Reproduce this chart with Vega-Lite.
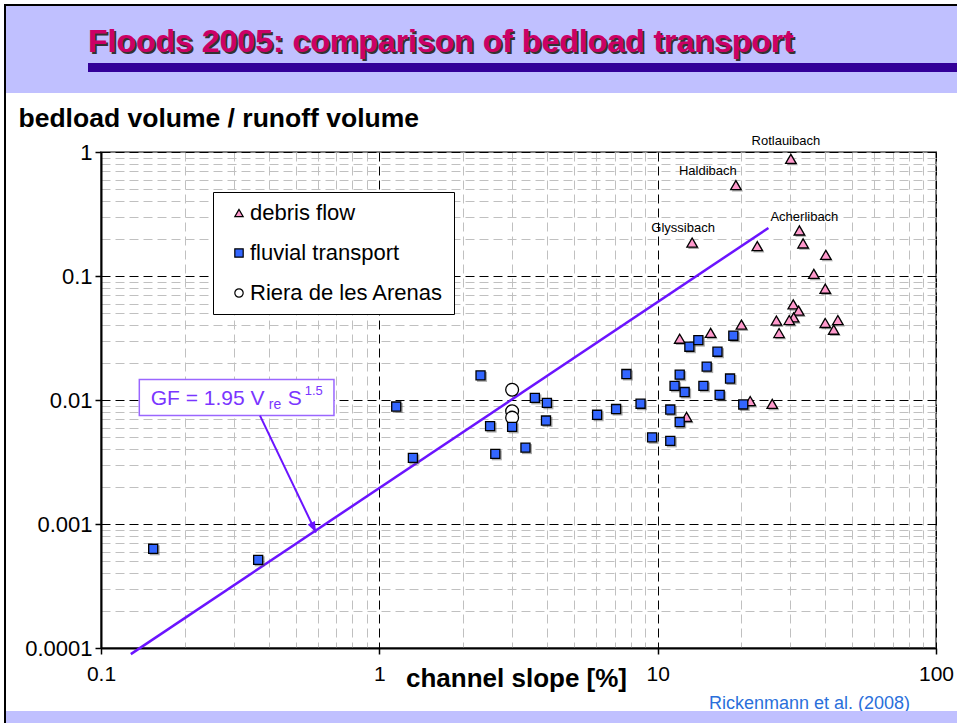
{
  "$schema": "https://vega.github.io/schema/vega-lite/v6.json",
  "background": "white",
  "padding": {"left": 4, "top": 4, "right": 0, "bottom": 0},
  "config": {"view": {"stroke": null}, "font": "Liberation Sans"},
  "columns": 5,
  "spacing": 0,
  "bounds": "flush",
  "align": "each",
  "concat": [
    {"width": 2, "height": 2, "data": {"values": []}, "mark": "point", "view": {"fill": "black", "stroke": null}},
    {"width": 82, "height": 2, "data": {"values": []}, "mark": "point", "view": {"fill": "black", "stroke": null}},
    {"width": 13, "height": 2, "data": {"values": []}, "mark": "point", "view": {"fill": "black", "stroke": null}},
    {"width": 835, "height": 2, "data": {"values": []}, "mark": "point", "view": {"fill": "black", "stroke": null}},
    {"width": 21, "height": 2, "data": {"values": []}, "mark": "point", "view": {"fill": "black", "stroke": null}},

    {"width": 2, "height": 57, "data": {"values": []}, "mark": "point", "view": {"fill": "black", "stroke": null}},
    {"width": 82, "height": 57, "data": {"values": []}, "mark": "point", "view": {"fill": "#c0c0ff", "stroke": null}},
    {"width": 13, "height": 57, "data": {"values": []}, "mark": "point", "view": {"fill": "#c0c0ff", "stroke": null}},
    {"width": 835, "height": 57, "data": {"values": []}, "mark": "point", "view": {"fill": "#c0c0ff", "stroke": null},
     "title": {"text": "Floods 2005: comparison of bedload transport", "anchor": "start", "frame": "group", "orient": "top", "offset": 0, "dx": -11, "dy": 80, "baseline": "alphabetic", "font": "Liberation Sans", "fontSize": 32, "fontWeight": "bold", "color": "#333333"}},
    {"width": 21, "height": 57, "data": {"values": []}, "mark": "point", "view": {"fill": "#c0c0ff", "stroke": null},
     "title": {"text": "Floods 2005: comparison of bedload transport", "anchor": "start", "frame": "group", "orient": "top", "offset": 0, "dx": -848, "dy": 78, "baseline": "alphabetic", "font": "Liberation Sans", "fontSize": 32, "fontWeight": "bold", "color": "#cc0066"}},

    {"width": 2, "height": 9, "data": {"values": []}, "mark": "point", "view": {"fill": "black", "stroke": null}},
    {"width": 82, "height": 9, "data": {"values": []}, "mark": "point", "view": {"fill": "#c0c0ff", "stroke": null}},
    {"width": 13, "height": 9, "data": {"values": []}, "mark": "point", "view": {"fill": "#330099", "stroke": null}},
    {"width": 835, "height": 9, "data": {"values": []}, "mark": "point", "view": {"fill": "#330099", "stroke": null}},
    {"width": 21, "height": 9, "data": {"values": []}, "mark": "point", "view": {"fill": "#330099", "stroke": null}},

    {"width": 2, "height": 21, "data": {"values": []}, "mark": "point", "view": {"fill": "black", "stroke": null}},
    {"width": 82, "height": 21, "data": {"values": []}, "mark": "point", "view": {"fill": "#c0c0ff", "stroke": null}},
    {"width": 13, "height": 21, "data": {"values": []}, "mark": "point", "view": {"fill": "#c0c0ff", "stroke": null}},
    {"width": 835, "height": 21, "data": {"values": []}, "mark": "point", "view": {"fill": "#c0c0ff", "stroke": null}},
    {"width": 21, "height": 21, "data": {"values": []}, "mark": "point", "view": {"fill": "#c0c0ff", "stroke": null}},

    {"width": 2, "height": 59, "data": {"values": []}, "mark": "point", "view": {"fill": "black", "stroke": null}},
    {"width": 82, "height": 59, "data": {"values": []}, "mark": "point", "view": {"fill": null, "stroke": null}},
    {"width": 13, "height": 59, "data": {"values": []}, "mark": "point", "view": {"fill": null, "stroke": null}},
    {"width": 835, "height": 59, "data": {"values": []}, "mark": "point", "view": {"fill": null, "stroke": null}},
    {"width": 21, "height": 59, "data": {"values": []}, "mark": "point", "view": {"fill": null, "stroke": null}},

    {"width": 2, "height": 496, "data": {"values": []}, "mark": "point", "view": {"fill": "black", "stroke": null}},
    {"width": 82, "height": 496, "data": {"values": []}, "mark": "point", "view": {"fill": null, "stroke": null}},
    {"width": 13, "height": 496, "data": {"values": []}, "mark": "point", "view": {"fill": null, "stroke": null}},
    {
      "width": 835,
      "height": 496,
      "view": {"fill": null, "stroke": "#808080", "strokeWidth": 2},
      "data": {"values": [
        {"type": "Riera de les Arenas", "slope": 3.0, "gf": 0.0121},
        {"type": "Riera de les Arenas", "slope": 3.0, "gf": 0.0081},
        {"type": "Riera de les Arenas", "slope": 3.0, "gf": 0.0072},
        {"type": "debris flow", "slope": 30.1, "gf": 0.88, "name": "Rotlauibach"},
        {"type": "debris flow", "slope": 19.1, "gf": 0.54, "name": "Haldibach"},
        {"type": "debris flow", "slope": 13.3, "gf": 0.186, "name": "Glyssibach"},
        {"type": "debris flow", "slope": 22.8, "gf": 0.174},
        {"type": "debris flow", "slope": 32.3, "gf": 0.233, "name": "Acherlibach"},
        {"type": "debris flow", "slope": 33.3, "gf": 0.183},
        {"type": "debris flow", "slope": 40.2, "gf": 0.148},
        {"type": "debris flow", "slope": 36.4, "gf": 0.104},
        {"type": "debris flow", "slope": 40.0, "gf": 0.079},
        {"type": "debris flow", "slope": 30.7, "gf": 0.059},
        {"type": "debris flow", "slope": 32.1, "gf": 0.0526},
        {"type": "debris flow", "slope": 30.8, "gf": 0.0464},
        {"type": "debris flow", "slope": 29.7, "gf": 0.0441},
        {"type": "debris flow", "slope": 26.7, "gf": 0.0437},
        {"type": "debris flow", "slope": 27.3, "gf": 0.0347},
        {"type": "debris flow", "slope": 40.0, "gf": 0.0418},
        {"type": "debris flow", "slope": 44.4, "gf": 0.0441},
        {"type": "debris flow", "slope": 42.9, "gf": 0.0369},
        {"type": "debris flow", "slope": 20.0, "gf": 0.0405},
        {"type": "debris flow", "slope": 15.5, "gf": 0.0348},
        {"type": "debris flow", "slope": 12.0, "gf": 0.0312},
        {"type": "debris flow", "slope": 21.5, "gf": 0.0098},
        {"type": "debris flow", "slope": 25.8, "gf": 0.0093},
        {"type": "debris flow", "slope": 12.7, "gf": 0.0073},
        {"type": "fluvial transport", "slope": 0.154, "gf": 0.000631},
        {"type": "fluvial transport", "slope": 0.367, "gf": 0.000514},
        {"type": "fluvial transport", "slope": 1.15, "gf": 0.00886},
        {"type": "fluvial transport", "slope": 1.32, "gf": 0.00341},
        {"type": "fluvial transport", "slope": 2.31, "gf": 0.0158},
        {"type": "fluvial transport", "slope": 2.5, "gf": 0.00616},
        {"type": "fluvial transport", "slope": 2.61, "gf": 0.00368},
        {"type": "fluvial transport", "slope": 3.0, "gf": 0.00607},
        {"type": "fluvial transport", "slope": 3.35, "gf": 0.00413},
        {"type": "fluvial transport", "slope": 3.62, "gf": 0.0104},
        {"type": "fluvial transport", "slope": 4.0, "gf": 0.00949},
        {"type": "fluvial transport", "slope": 3.97, "gf": 0.00683},
        {"type": "fluvial transport", "slope": 6.06, "gf": 0.0076},
        {"type": "fluvial transport", "slope": 7.09, "gf": 0.00846},
        {"type": "fluvial transport", "slope": 7.72, "gf": 0.0162},
        {"type": "fluvial transport", "slope": 8.68, "gf": 0.00933},
        {"type": "fluvial transport", "slope": 9.55, "gf": 0.005},
        {"type": "fluvial transport", "slope": 11.1, "gf": 0.00838},
        {"type": "fluvial transport", "slope": 11.1, "gf": 0.00468},
        {"type": "fluvial transport", "slope": 11.5, "gf": 0.013},
        {"type": "fluvial transport", "slope": 12.0, "gf": 0.016},
        {"type": "fluvial transport", "slope": 12.0, "gf": 0.00664},
        {"type": "fluvial transport", "slope": 12.5, "gf": 0.0116},
        {"type": "fluvial transport", "slope": 13.0, "gf": 0.0269},
        {"type": "fluvial transport", "slope": 14.0, "gf": 0.0304},
        {"type": "fluvial transport", "slope": 14.6, "gf": 0.013},
        {"type": "fluvial transport", "slope": 15.0, "gf": 0.0186},
        {"type": "fluvial transport", "slope": 16.4, "gf": 0.0245},
        {"type": "fluvial transport", "slope": 16.7, "gf": 0.011},
        {"type": "fluvial transport", "slope": 18.2, "gf": 0.0149},
        {"type": "fluvial transport", "slope": 18.7, "gf": 0.033},
        {"type": "fluvial transport", "slope": 20.3, "gf": 0.0092}
      ]},
      "layer": [
        {
          "data": {"values": [{"slope": 0.128, "gf": 0.0000893}, {"slope": 25, "gf": 0.244}]},
          "mark": {"type": "line", "color": "#6b14ff", "strokeWidth": 2.5, "clip": false},
          "encoding": {
            "x": {
              "field": "slope", "type": "quantitative",
              "scale": {"type": "log", "domain": [0.1, 100], "nice": false},
              "axis": {
                "values": [0.1, 0.2, 0.3, 0.4, 0.5, 0.6, 0.7, 0.8, 0.9, 1, 2, 3, 4, 5, 6, 7, 8, 9, 10, 20, 30, 40, 50, 60, 70, 80, 90, 100],
                "format": "~g",
                "labelExpr": "abs(log(datum.value)/LN10 - round(log(datum.value)/LN10)) < 0.000001 ? datum.label : ''",
                "grid": true,
                "gridColor": {"condition": {"test": "abs(log(datum.value)/LN10 - round(log(datum.value)/LN10)) < 0.000001", "value": "#000000"}, "value": "#c0c0c0"},
                "gridDash": [9, 5],
                "gridWidth": 1,
                "tickSize": 6,
                "tickColor": "black",
                "tickWidth": 1.5,
                "tickOpacity": {"condition": {"test": "abs(log(datum.value)/LN10 - round(log(datum.value)/LN10)) < 0.000001", "value": 1}, "value": 0},
                "domainColor": "black",
                "domainWidth": 2,
                "labelFont": "Liberation Sans",
                "labelFontSize": 21,
                "labelColor": "black",
                "labelPadding": 9,
                "labelFlush": false,
                "labelOverlap": false,
                "labelBaseline": "top",
                "title": "channel slope [%]",
                "titleFont": "Liberation Sans",
                "titleFontWeight": "bold",
                "titleFontSize": 26,
                "titleColor": "black",
                "titleX": 415,
                "titleY": 38,
                "titleAlign": "center",
                "titleBaseline": "alphabetic"
              }
            },
            "y": {
              "field": "gf", "type": "quantitative",
              "scale": {"type": "log", "domain": [0.0001, 1], "nice": false},
              "axis": {
                "values": [0.0001, 0.0002, 0.0003, 0.0004, 0.0005, 0.0006, 0.0007, 0.0008, 0.0009, 0.001, 0.002, 0.003, 0.004, 0.005, 0.006, 0.007, 0.008, 0.009, 0.01, 0.02, 0.03, 0.04, 0.05, 0.06, 0.07, 0.08, 0.09, 0.1, 0.2, 0.3, 0.4, 0.5, 0.6, 0.7, 0.8, 0.9, 1],
                "format": "~g",
                "labelExpr": "abs(log(datum.value)/LN10 - round(log(datum.value)/LN10)) < 0.000001 ? datum.label : ''",
                "grid": true,
                "gridColor": {"condition": {"test": "abs(log(datum.value)/LN10 - round(log(datum.value)/LN10)) < 0.000001", "value": "#000000"}, "value": "#c0c0c0"},
                "gridDash": [9, 5],
                "gridWidth": 1,
                "tickSize": 6,
                "tickColor": "black",
                "tickWidth": 1.5,
                "tickOpacity": {"condition": {"test": "abs(log(datum.value)/LN10 - round(log(datum.value)/LN10)) < 0.000001", "value": 1}, "value": 0},
                "domainColor": "black",
                "domainWidth": 2,
                "labelFont": "Liberation Sans",
                "labelFontSize": 22,
                "labelColor": "black",
                "labelPadding": 3,
                "labelFlush": false,
                "labelOverlap": false,
                "title": "bedload volume / runoff volume",
                "titleFont": "Liberation Sans",
                "titleFontWeight": "bold",
                "titleFontSize": 26.5,
                "titleColor": "black",
                "titleAngle": 0,
                "titleAlign": "left",
                "titleBaseline": "alphabetic",
                "titleX": -83,
                "titleY": -26
              }
            }
          }
        },
        {
          "transform": [{"filter": "datum.type == 'debris flow'"}],
          "mark": {"type": "point", "shape": "triangle-up", "size": 125, "filled": true, "color": "#555555", "opacity": 0.5, "xOffset": 1.5, "yOffset": 1.5},
          "encoding": {
            "x": {"field": "slope", "type": "quantitative"},
            "y": {"field": "gf", "type": "quantitative"}
          }
        },
        {
          "transform": [{"filter": "datum.type == 'fluvial transport'"}],
          "mark": {"type": "point", "shape": "square", "size": 100, "filled": true, "color": "#555555", "opacity": 0.5, "xOffset": 1.5, "yOffset": 1.5},
          "encoding": {
            "x": {"field": "slope", "type": "quantitative"},
            "y": {"field": "gf", "type": "quantitative"}
          }
        },
        {
          "mark": {"type": "point", "filled": true, "stroke": "black", "strokeWidth": 1.3, "opacity": 1},
          "encoding": {
            "x": {"field": "slope", "type": "quantitative"},
            "y": {"field": "gf", "type": "quantitative"},
            "color": {
              "field": "type", "type": "nominal",
              "scale": {"domain": ["debris flow", "fluvial transport", "Riera de les Arenas"], "range": ["#ff99cc", "#3366ff", "#ffffff"]},
              "legend": {
                "title": null, "orient": "none", "legendX": 209, "legendY": 188,
                "fillColor": "white", "strokeColor": "black",
                "padding": 10, "rowPadding": 18,
                "labelFont": "Liberation Sans", "labelFontSize": 22, "labelColor": "black", "labelLimit": 400,
                "symbolOffset": 5, "labelOffset": 0, "symbolSize": 70,
                "symbolStrokeColor": "black", "symbolStrokeWidth": 1.2
              }
            },
            "shape": {
              "field": "type", "type": "nominal",
              "scale": {"domain": ["debris flow", "fluvial transport", "Riera de les Arenas"], "range": ["triangle-up", "square", "circle"]}
            },
            "size": {
              "condition": [
                {"test": "datum.type == 'Riera de les Arenas'", "value": 165},
                {"test": "datum.type == 'debris flow'", "value": 110}
              ],
              "value": 82
            }
          }
        },
        {
          "transform": [{"filter": "datum.name == 'Rotlauibach'"}],
          "mark": {"type": "text", "dx": -5, "dy": -18, "fontSize": 13, "font": "Liberation Sans", "color": "black", "align": "center", "baseline": "middle"},
          "encoding": {"x": {"field": "slope", "type": "quantitative"}, "y": {"field": "gf", "type": "quantitative"}, "text": {"field": "name"}}
        },
        {
          "transform": [{"filter": "datum.name == 'Haldibach'"}],
          "mark": {"type": "text", "dx": -28, "dy": -14, "fontSize": 13, "font": "Liberation Sans", "color": "black", "align": "center", "baseline": "middle"},
          "encoding": {"x": {"field": "slope", "type": "quantitative"}, "y": {"field": "gf", "type": "quantitative"}, "text": {"field": "name"}}
        },
        {
          "transform": [{"filter": "datum.name == 'Glyssibach'"}],
          "mark": {"type": "text", "dx": -9, "dy": -15, "fontSize": 13, "font": "Liberation Sans", "color": "black", "align": "center", "baseline": "middle"},
          "encoding": {"x": {"field": "slope", "type": "quantitative"}, "y": {"field": "gf", "type": "quantitative"}, "text": {"field": "name"}}
        },
        {
          "transform": [{"filter": "datum.name == 'Acherlibach'"}],
          "mark": {"type": "text", "dx": 5, "dy": -13, "fontSize": 13, "font": "Liberation Sans", "color": "black", "align": "center", "baseline": "middle"},
          "encoding": {"x": {"field": "slope", "type": "quantitative"}, "y": {"field": "gf", "type": "quantitative"}, "text": {"field": "name"}}
        },
        {
          "data": {"values": [{"slope": 0.1373, "slope2": 0.6871, "gf": 0.01464, "gf2": 0.00749}]},
          "mark": {"type": "rect", "fill": "white", "stroke": "#9a66ff", "strokeWidth": 1.5},
          "encoding": {
            "x": {"field": "slope", "type": "quantitative"}, "x2": {"field": "slope2"},
            "y": {"field": "gf", "type": "quantitative"}, "y2": {"field": "gf2"}
          }
        },
        {
          "data": {"values": [{"slope": 0.1509, "gf": 0.00915}]},
          "encoding": {"x": {"field": "slope", "type": "quantitative"}, "y": {"field": "gf", "type": "quantitative"}},
          "layer": [
            {"mark": {"type": "text", "text": "GF = 1.95 V", "align": "left", "baseline": "alphabetic", "fontSize": 21, "font": "Liberation Sans", "color": "#7a35ff"}},
            {"mark": {"type": "text", "text": "re", "align": "left", "baseline": "alphabetic", "dx": 118, "dy": 4, "fontSize": 14, "font": "Liberation Sans", "color": "#7a35ff"}},
            {"mark": {"type": "text", "text": "S", "align": "left", "baseline": "alphabetic", "dx": 137, "fontSize": 21, "font": "Liberation Sans", "color": "#7a35ff"}},
            {"mark": {"type": "text", "text": "1.5", "align": "left", "baseline": "alphabetic", "dx": 154, "dy": -10, "fontSize": 13, "font": "Liberation Sans", "color": "#7a35ff"}}
          ]
        },
        {
          "data": {"values": [{"slope": 0.3726, "gf": 0.00749, "slope2": 0.5922, "gf2": 0.000854}]},
          "layer": [
            {
              "mark": {"type": "rule", "color": "#6b14ff", "strokeWidth": 2},
              "encoding": {
                "x": {"field": "slope", "type": "quantitative"}, "x2": {"field": "slope2"},
                "y": {"field": "gf", "type": "quantitative"}, "y2": {"field": "gf2"}
              }
            },
            {
              "mark": {"type": "point", "shape": "M0,0L-0.6,-1.6L0.6,-1.6Z", "filled": true, "color": "#6b14ff", "opacity": 1, "size": 180, "angle": 334},
              "encoding": {
                "x": {"field": "slope2", "type": "quantitative"},
                "y": {"field": "gf2", "type": "quantitative"}
              }
            }
          ]
        }
      ]
    },
    {"width": 21, "height": 496, "data": {"values": []}, "mark": "point", "view": {"fill": null, "stroke": null}},

    {"width": 2, "height": 63, "data": {"values": []}, "mark": "point", "view": {"fill": "black", "stroke": null}},
    {"width": 82, "height": 63, "data": {"values": []}, "mark": "point", "view": {"fill": null, "stroke": null}},
    {"width": 13, "height": 63, "data": {"values": []}, "mark": "point", "view": {"fill": null, "stroke": null}},
    {"width": 835, "height": 63, "data": {"values": []}, "mark": "point", "view": {"fill": null, "stroke": null},
     "title": {"text": "Rickenmann et al. (2008)", "anchor": "end", "frame": "group", "orient": "top", "offset": 0, "dx": -26, "dy": 79, "baseline": "alphabetic", "font": "Liberation Sans", "fontSize": 18, "fontWeight": "normal", "color": "#2a6fdb"}},
    {"width": 21, "height": 63, "data": {"values": []}, "mark": "point", "view": {"fill": null, "stroke": null}},

    {"width": 2, "height": 12, "data": {"values": []}, "mark": "point", "view": {"fill": "black", "stroke": null}},
    {"width": 82, "height": 12, "data": {"values": []}, "mark": "point", "view": {"fill": "#c0c0ff", "stroke": null}},
    {"width": 13, "height": 12, "data": {"values": []}, "mark": "point", "view": {"fill": "#c0c0ff", "stroke": null}},
    {"width": 835, "height": 12, "data": {"values": []}, "mark": "point", "view": {"fill": "#c0c0ff", "stroke": null}},
    {"width": 21, "height": 12, "data": {"values": []}, "mark": "point", "view": {"fill": "#c0c0ff", "stroke": null}}
  ]
}
